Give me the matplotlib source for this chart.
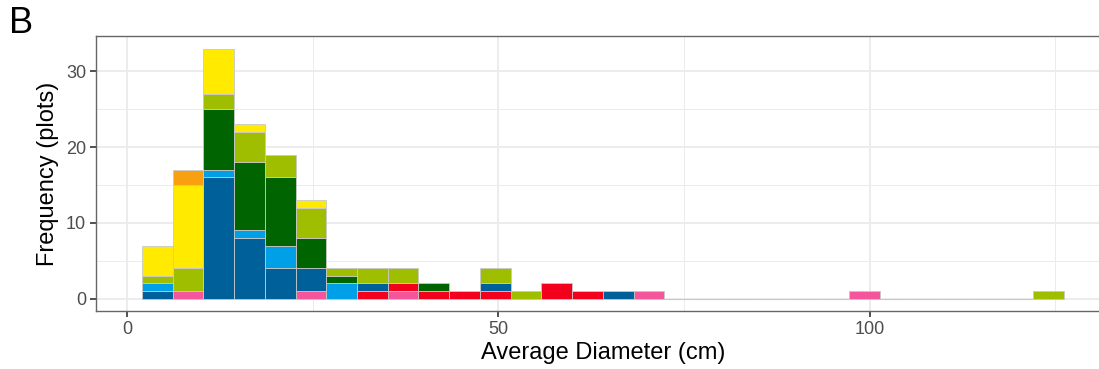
import numpy as np
import matplotlib

matplotlib.use("Agg")
import matplotlib.pyplot as plt

plt.rcParams["font.family"] = ["Liberation Sans", "DejaVu Sans"]

# 30 histogram bins (ggplot default), counts per group, stacked bottom -> top
bin_start = 2.0
bin_width = 4.14
n_bins = 30

groups = ["pink", "red", "darkblue", "lightblue", "darkgreen", "olive", "yellow", "orange"]
colors = {
    "pink": "#F4559B",
    "red": "#F2001C",
    "darkblue": "#00609A",
    "lightblue": "#00A0E9",
    "darkgreen": "#006400",
    "olive": "#A0BE00",
    "yellow": "#FFEA00",
    "orange": "#F9A010",
}

pink = [0, 1, 0, 0, 0, 1, 0, 0, 1, 0, 0, 0, 0, 0, 0, 0, 1, 0, 0, 0, 0, 0, 0, 1, 0, 0, 0, 0, 0, 0]
red = [0, 0, 0, 0, 0, 0, 0, 1, 1, 1, 1, 1, 0, 2, 1, 0, 0, 0, 0, 0, 0, 0, 0, 0, 0, 0, 0, 0, 0, 0]
darkblue = [1, 0, 16, 8, 4, 3, 0, 1, 0, 0, 0, 1, 0, 0, 0, 1, 0, 0, 0, 0, 0, 0, 0, 0, 0, 0, 0, 0, 0, 0]
lightblue = [1, 0, 1, 1, 3, 0, 2, 0, 0, 0, 0, 0, 0, 0, 0, 0, 0, 0, 0, 0, 0, 0, 0, 0, 0, 0, 0, 0, 0, 0]
darkgreen = [0, 0, 8, 9, 9, 4, 1, 0, 0, 1, 0, 0, 0, 0, 0, 0, 0, 0, 0, 0, 0, 0, 0, 0, 0, 0, 0, 0, 0, 0]
olive = [1, 3, 2, 4, 3, 4, 1, 2, 2, 0, 0, 2, 1, 0, 0, 0, 0, 0, 0, 0, 0, 0, 0, 0, 0, 0, 0, 0, 0, 1]
yellow = [4, 11, 6, 1, 0, 1, 0, 0, 0, 0, 0, 0, 0, 0, 0, 0, 0, 0, 0, 0, 0, 0, 0, 0, 0, 0, 0, 0, 0, 0]
orange = [0, 2, 0, 0, 0, 0, 0, 0, 0, 0, 0, 0, 0, 0, 0, 0, 0, 0, 0, 0, 0, 0, 0, 0, 0, 0, 0, 0, 0, 0]

counts = {
    "pink": pink, "red": red, "darkblue": darkblue, "lightblue": lightblue,
    "darkgreen": darkgreen, "olive": olive, "yellow": yellow, "orange": orange,
}

x_ticks = [0, 50, 100]
y_ticks = [0, 10, 20, 30]

left_edges = bin_start + bin_width * np.arange(n_bins)

fig = plt.figure(figsize=(10.99, 3.69), dpi=100)
ax = fig.add_axes([0.0871, 0.157, 1.0102 - 0.0871, 0.9024 - 0.157])

# outline of every bin (empty bins show as a flat grey line at 0)
totals = np.sum([counts[g] for g in groups], axis=0)
bottom = np.zeros(n_bins)
for g in groups:
    h = np.array(counts[g], dtype=float)
    m = h > 0
    ax.bar(left_edges[m], h[m], width=bin_width, bottom=bottom[m], align="edge",
           color=colors[g], edgecolor="#c8c8c8", linewidth=0.6, zorder=3)
    bottom += h
empty = totals == 0
ax.bar(left_edges[empty], np.zeros(empty.sum()), width=bin_width, align="edge",
       color="none", edgecolor="#c8c8c8", linewidth=0.8, zorder=3)

ax.set_xlim(-4.2, 132.4)
ax.set_ylim(-1.65, 34.65)
ax.set_xticks(x_ticks)
ax.set_yticks(y_ticks)
ax.set_xticks([25, 75, 125], minor=True)
ax.set_yticks([5, 15, 25], minor=True)
ax.grid(which="major", color="#ebebeb", linewidth=1.3, zorder=0)
ax.grid(which="minor", color="#ebebeb", linewidth=0.7, zorder=0)
ax.set_axisbelow(True)
ax.tick_params(which="minor", length=0)
ax.tick_params(which="major", length=4, width=1.2, color="#333333",
               labelsize=13, labelcolor="#4d4d4d", pad=3)
for s in ax.spines.values():
    s.set_color("#666666")
    s.set_linewidth(1.0)

ax.set_xlabel("Average Diameter (cm)", fontsize=17, labelpad=3)
ax.set_ylabel("Frequency (plots)", fontsize=17, labelpad=5)
fig.text(0.008, 0.985, "B", fontsize=26, va="top", ha="left")

fig.savefig("out.png", dpi=100)
